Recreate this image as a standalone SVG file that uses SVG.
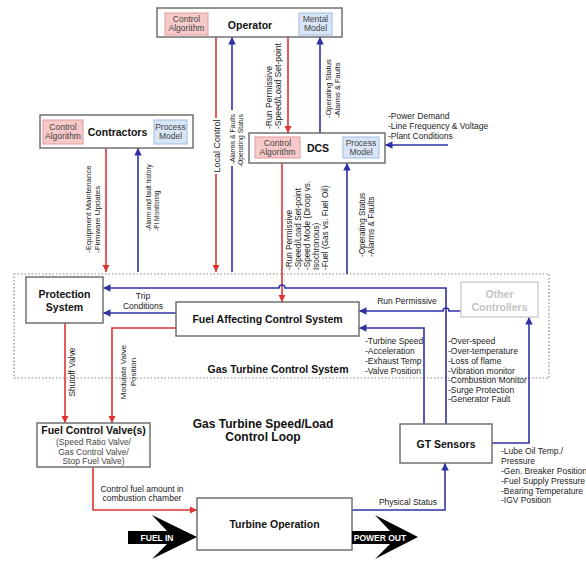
<svg xmlns="http://www.w3.org/2000/svg" width="586" height="561" viewBox="0 0 586 561">
<defs>
<marker id="ar" viewBox="0 0 10 10" refX="10" refY="5" markerWidth="7.5" markerHeight="7.5" markerUnits="userSpaceOnUse" orient="auto"><path d="M0,0 L10,5 L0,10 Z" fill="#dd3333"/></marker>
<marker id="ab" viewBox="0 0 10 10" refX="10" refY="5" markerWidth="7.5" markerHeight="7.5" markerUnits="userSpaceOnUse" orient="auto"><path d="M0,0 L10,5 L0,10 Z" fill="#2e32a6"/></marker>
</defs>
<style>
.box{fill:#fff;stroke:#707070;stroke-width:1.5}
.ca{fill:#f7c9c9;stroke:#e29a9a;stroke-width:1}
.pm{fill:#d8e5f6;stroke:#9fbbe2;stroke-width:1}
text{font-family:"Liberation Sans",Arial,sans-serif}
.title{font-weight:bold;font-size:10.5px;fill:#111;text-anchor:middle}
.in{font-size:8.5px;fill:#444;text-anchor:middle}
.s{font-size:8.5px;fill:#222}
.v{font-size:8.2px;fill:#222}
.m{text-anchor:middle}
.e{text-anchor:end}
.r{stroke:#dd3333;stroke-width:1.6;fill:none}
.b{stroke:#2e32a6;stroke-width:1.6;fill:none}
.big{font-weight:bold;font-size:8.5px;fill:#fff;text-anchor:middle}
</style>
<rect x="0" y="0" width="586" height="561" fill="#fff"/>

<g id="gt-control-system-boundary">
<rect x="14" y="274" width="535" height="104" fill="none" stroke="#888" stroke-width="1.2" stroke-dasharray="1.5,2"/>
<text class="title" x="278" y="373">Gas Turbine Control System</text>
</g>

<g id="connectors">
<path class="r" d="M216,37 V272" marker-end="url(#ar)"/>
<path class="b" d="M232,272 V37" marker-end="url(#ab)"/>
<path class="r" d="M288,37 V133" marker-end="url(#ar)"/>
<path class="b" d="M320,133 V37" marker-end="url(#ab)"/>
<path class="b" d="M448,145 H385" marker-end="url(#ab)"/>
<path class="r" d="M106,148 V272" marker-end="url(#ar)"/>
<path class="b" d="M138,272 V148" marker-end="url(#ab)"/>
<path class="r" d="M282,163 V302" marker-end="url(#ar)"/>
<path class="b" d="M347,274 V163" marker-end="url(#ab)"/>
<path class="b" d="M446,424 V288 H285 A3,3 0 0 0 279,288 H103" marker-end="url(#ab)"/>
<path class="b" d="M461,311 H449 A3,3 0 0 0 443,311 H359" marker-end="url(#ab)"/>
<path class="b" d="M176,313 H103" marker-end="url(#ab)"/>
<path class="b" d="M424,424 V328 H359" marker-end="url(#ab)"/>
<path class="b" d="M492,443 H529 V317" marker-end="url(#ab)"/>
<path class="r" d="M65,323 V423" marker-end="url(#ar)"/>
<path class="r" d="M176,328 H112 V423" marker-end="url(#ar)"/>
<path class="r" d="M93,467 V510 H197" marker-end="url(#ar)"/>
<path class="b" d="M352,510 H445 V463" marker-end="url(#ab)"/>

<rect x="210" y="118" width="11" height="56" fill="#fff"/>
<rect x="226" y="110" width="20" height="56" fill="#fff"/>
<text class="m" style="font-size:9px;fill:#222" transform="translate(219.5,146) rotate(-90)">Local Control</text>
<text class="e" style="font-size:6.8px;fill:#222" transform="translate(235,114) rotate(-90)">-Alarms &amp; Faults</text>
<text class="e" style="font-size:6.8px;fill:#222" transform="translate(243,114) rotate(-90)">-Operating Status</text>

<text class="v" style="font-size:8.6px" transform="translate(272,129) rotate(-90)">-Run Permissive</text>
<text class="v" style="font-size:8.6px" transform="translate(281,129) rotate(-90)">-Speed/Load Set-point</text>
<text class="v" style="font-size:7.5px" transform="translate(331,118) rotate(-90)">-Operating Status</text>
<text class="v" style="font-size:7.5px" transform="translate(340,118) rotate(-90)">-Alarms &amp; Faults</text>

<text class="s" x="388" y="119">-Power Demand</text>
<text class="s" x="388" y="129">-Line Frequency &amp; Voltage</text>
<text class="s" x="388" y="139">-Plant Conditions</text>

<text class="v" style="font-size:7.9px" transform="translate(91,253) rotate(-90)">-Equipment Maintenance</text>
<text class="v" style="font-size:7.9px" transform="translate(100,253) rotate(-90)">-Firmware Updates</text>
<text class="v" style="font-size:6.5px" transform="translate(151,231) rotate(-90)">-Alarm and fault history</text>
<text class="v" style="font-size:6.5px" transform="translate(159,231) rotate(-90)">-PI Monitoring</text>

<text class="v" transform="translate(292,270) rotate(-90)">-Run Permissive</text>
<text class="v" transform="translate(301,270) rotate(-90)">-Speed/Load Set-point</text>
<text class="v" transform="translate(310,270) rotate(-90)">-Speed Mode (Droop vs.</text>
<text class="v" transform="translate(319,270) rotate(-90)">Isochronous)</text>
<text class="v" transform="translate(328,270) rotate(-90)">-Fuel (Gas vs. Fuel Oil)</text>
<text class="v" transform="translate(365,257) rotate(-90)">-Operating Status</text>
<text class="v" transform="translate(374,257) rotate(-90)">-Alarms &amp; Faults</text>

<text class="s m" x="143" y="299">Trip</text>
<text class="s m" x="143" y="309">Conditions</text>
<text class="s m" x="407" y="304">Run Permissive</text>

<text class="s" x="365" y="344">-Turbine Speed</text>
<text class="s" x="365" y="354">-Acceleration</text>
<text class="s" x="365" y="364">-Exhaust Temp</text>
<text class="s" x="365" y="374">-Valve Position</text>

<text class="s" x="448" y="344">-Over-speed</text>
<text class="s" x="448" y="354">-Over-temperature</text>
<text class="s" x="448" y="364">-Loss of flame</text>
<text class="s" x="448" y="374">-Vibration monitor</text>
<text class="s" x="448" y="383">-Combustion Monitor</text>
<text class="s" x="448" y="392.5">-Surge Protection</text>
<text class="s" x="448" y="402">-Generator Fault</text>

<text class="s" x="501" y="454">-Lube Oil Temp./</text>
<text class="s" x="501" y="464">Pressure</text>
<text class="s" x="501" y="474">-Gen. Breaker Position</text>
<text class="s" x="501" y="484">-Fuel Supply Pressure</text>
<text class="s" x="501" y="493.5">-Bearing Temperature</text>
<text class="s" x="501" y="503">-IGV Position</text>

<text class="v" style="font-size:8.4px" text-anchor="middle" transform="translate(75,372) rotate(-90)">Shutoff Valve</text>
<text class="v" style="font-size:8px" text-anchor="middle" transform="translate(126,372) rotate(-90)">Modulate Valve</text>
<text class="v" style="font-size:8px" text-anchor="middle" transform="translate(136,372) rotate(-90)">Position</text>

<text class="s m" x="142" y="492">Control fuel amount in</text>
<text class="s m" x="142" y="501">combustion chamber</text>
<text class="s m" x="408" y="505">Physical Status</text>
</g>

<g id="operator">
<rect class="box" x="157" y="8" width="185" height="29"/>
<rect class="ca" x="165" y="13" width="43" height="22"/>
<text class="in" x="186.5" y="21.5">Control</text>
<text class="in" x="186.5" y="31">Algorithm</text>
<rect class="pm" x="299" y="13" width="33" height="22"/>
<text class="in" x="315.5" y="21.5">Mental</text>
<text class="in" x="315.5" y="31">Model</text>
<text class="title" x="250" y="29">Operator</text>
</g>

<g id="contractors">
<rect class="box" x="40" y="115" width="153" height="33"/>
<rect class="ca" x="43" y="120" width="40" height="24"/>
<text class="in" x="63" y="129.5">Control</text>
<text class="in" x="63" y="139">Algorithm</text>
<rect class="pm" x="154" y="120" width="33" height="24"/>
<text class="in" x="170.5" y="129.5">Process</text>
<text class="in" x="170.5" y="139">Model</text>
<text class="title" x="117.5" y="136">Contractors</text>
</g>

<g id="dcs">
<rect class="box" x="249" y="133" width="136" height="30"/>
<rect class="ca" x="255" y="137" width="45" height="21"/>
<text class="in" x="277.5" y="145.5">Control</text>
<text class="in" x="277.5" y="155">Algorithm</text>
<rect class="pm" x="343" y="137" width="36" height="21"/>
<text class="in" x="361" y="145.5">Process</text>
<text class="in" x="361" y="155">Model</text>
<text class="title" x="318" y="152">DCS</text>
</g>

<g id="protection-system">
<rect class="box" x="26" y="277" width="77" height="46"/>
<text class="title" x="64.5" y="298">Protection</text>
<text class="title" x="64.5" y="311">System</text>
</g>

<g id="fuel-affecting-control-system">
<rect class="box" x="176" y="302" width="183" height="34"/>
<text class="title" x="267.5" y="323">Fuel Affecting Control System</text>
</g>

<g id="other-controllers">
<rect x="461" y="282" width="77" height="35" fill="#fff" stroke="#cfcfcf" stroke-width="1.5"/>
<text class="title" style="fill:#c4c4c4" x="499.5" y="298">Other</text>
<text class="title" style="fill:#c4c4c4" x="499.5" y="311">Controllers</text>
</g>

<g id="gt-sensors">
<rect class="box" x="400" y="424" width="92" height="39"/>
<text class="title" x="446" y="448">GT Sensors</text>
</g>

<g id="fuel-control-valves">
<rect class="box" x="37" y="423" width="113" height="44"/>
<text class="title" x="93.5" y="434">Fuel Control Valve(s)</text>
<text class="in" x="93.5" y="445">(Speed Ratio Valve/</text>
<text class="in" x="93.5" y="454.5">Gas Control Valve/</text>
<text class="in" x="93.5" y="464">Stop Fuel Valve)</text>
</g>

<g id="turbine-operation">
<rect class="box" x="197" y="498" width="155" height="52"/>
<text class="title" x="274.5" y="528">Turbine Operation</text>
</g>

<g id="loop-title">
<text class="title" style="font-size:12px" x="263" y="428">Gas Turbine Speed/Load</text>
<text class="title" style="font-size:12px" x="263" y="441">Control Loop</text>
</g>

<g id="fuel-in">
<path d="M128,531 H167 L152,515 L197,537 L152,559 L167,544 H128 Z" fill="#000"/>
<text class="big" x="157" y="541">FUEL IN</text>
</g>

<g id="power-out">
<path d="M352,531 H390 L375,515 L418,537 L375,559 L390,544 H352 Z" fill="#000"/>
<text class="big" x="380" y="541">POWER OUT</text>
</g>
</svg>
